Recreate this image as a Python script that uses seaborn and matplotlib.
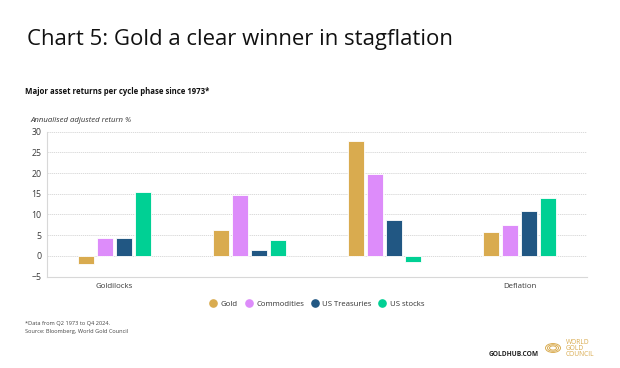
import numpy as np
import pandas as pd
import seaborn as sns
import matplotlib.pyplot as plt
from matplotlib.patches import Circle
from matplotlib.lines import Line2D

# data
phases = ["Goldilocks", "Reflation", "Stagflation", "Deflation"]
phase_labels = ["Goldilocks", "", "", "Deflation"]
assets = ["Gold", "Commodities", "US Treasuries", "US stocks"]
gold = [-1.9, 6.3, 27.7, 5.8]
commodities = [4.4, 14.6, 19.8, 7.4]
treasuries = [4.3, 1.4, 8.6, 10.8]
stocks = [15.5, 3.8, -1.5, 14.0]
colors = ["#D9AB4F", "#DD8CFA", "#215783", "#00D094"]

df = pd.DataFrame({
    "phase": phases * 4,
    "asset": [a for a in assets for _ in phases],
    "value": gold + commodities + treasuries + stocks,
})

sns.set_theme(style="white")
plt.rcParams["font.family"] = ["Open Sans", "DejaVu Sans"]

fig = plt.figure(figsize=(6.2, 3.68), dpi=100)
ax = fig.add_axes([47 / 620, 0.2486, 540 / 620, 0.3935])

sns.barplot(data=df, x="phase", y="value", hue="asset", order=phases,
            hue_order=assets, palette=colors, saturation=1, width=0.57,
            gap=0.17, edgecolor="white", linewidth=0.6, ax=ax, legend=False)

ax.set_ylim(-5, 30)
ax.set_xlim(-0.5, 3.5)
ax.set_yticks(range(-5, 31, 5))
ax.set_xticks(range(4))
ax.set_xticklabels(phase_labels)
ax.tick_params(axis="y", length=0, labelsize=6.3, colors="#3a3a3a", pad=4)
ax.tick_params(axis="x", length=0, labelsize=5.7, colors="#3a3a3a", pad=5)
ax.set_xlabel("")
ax.set_ylabel("")
ax.yaxis.grid(True, color="#d4d4d4", linestyle=(0, (1.5, 1)), linewidth=0.6)
ax.set_axisbelow(True)
for s in ["top", "right"]:
    ax.spines[s].set_visible(False)
for s in ["left", "bottom"]:
    ax.spines[s].set_color("#d8d8d8")
    ax.spines[s].set_linewidth(0.8)

# legend with round markers
handles = [Line2D([], [], marker="o", linestyle="", markersize=5.2,
                  markerfacecolor=c, markeredgecolor=c) for c in colors]
fig.legend(handles, assets, loc="center", bbox_to_anchor=(0.508, 1 - 304 / 368),
           ncol=4, frameon=False, fontsize=5.6, handletextpad=0.0,
           columnspacing=0.35, labelcolor="#333333")

fig.text(27 / 620, 1 - 40 / 368, "Chart 5: Gold a clear winner in stagflation",
         fontsize=15.9, color="#111111", va="center")
fig.text(25 / 620, 1 - 92 / 368, "Major asset returns per cycle phase since 1973*",
         fontsize=5.6, fontweight="bold", color="#111111", va="center")
fig.text(30 / 620, 1 - 121 / 368, "Annualised adjusted return %",
         fontsize=5.6, fontstyle="italic", color="#333333", va="center")
fig.text(25 / 620, 1 - 324 / 368, "*Data from Q2 1973 to Q4 2024.",
         fontsize=4.1, color="#444444", va="center")
fig.text(25 / 620, 1 - 331 / 368, "Source: Bloomberg, World Gold Council",
         fontsize=4.1, color="#444444", va="center")

# footer branding
fig.text(539 / 620, 1 - 355 / 368, "GOLDHUB.COM", fontsize=4.8,
         fontweight="bold", color="#222222", ha="right", va="center")
logo_gold = "#D9AB4F"
for r in [7.5, 5.5, 3.5]:
    fig.patches.append(Circle((553 / 620, 1 - 348 / 368), r / 620,
                              transform=fig.transFigure, fill=False,
                              edgecolor=logo_gold, linewidth=0.7))
for i, word in enumerate(["WORLD", "GOLD", "COUNCIL"]):
    fig.text(566 / 620, 1 - (343 + i * 6) / 368, word, fontsize=4.8,
             color=logo_gold, va="center")

fig.savefig("out.png", dpi=100)
